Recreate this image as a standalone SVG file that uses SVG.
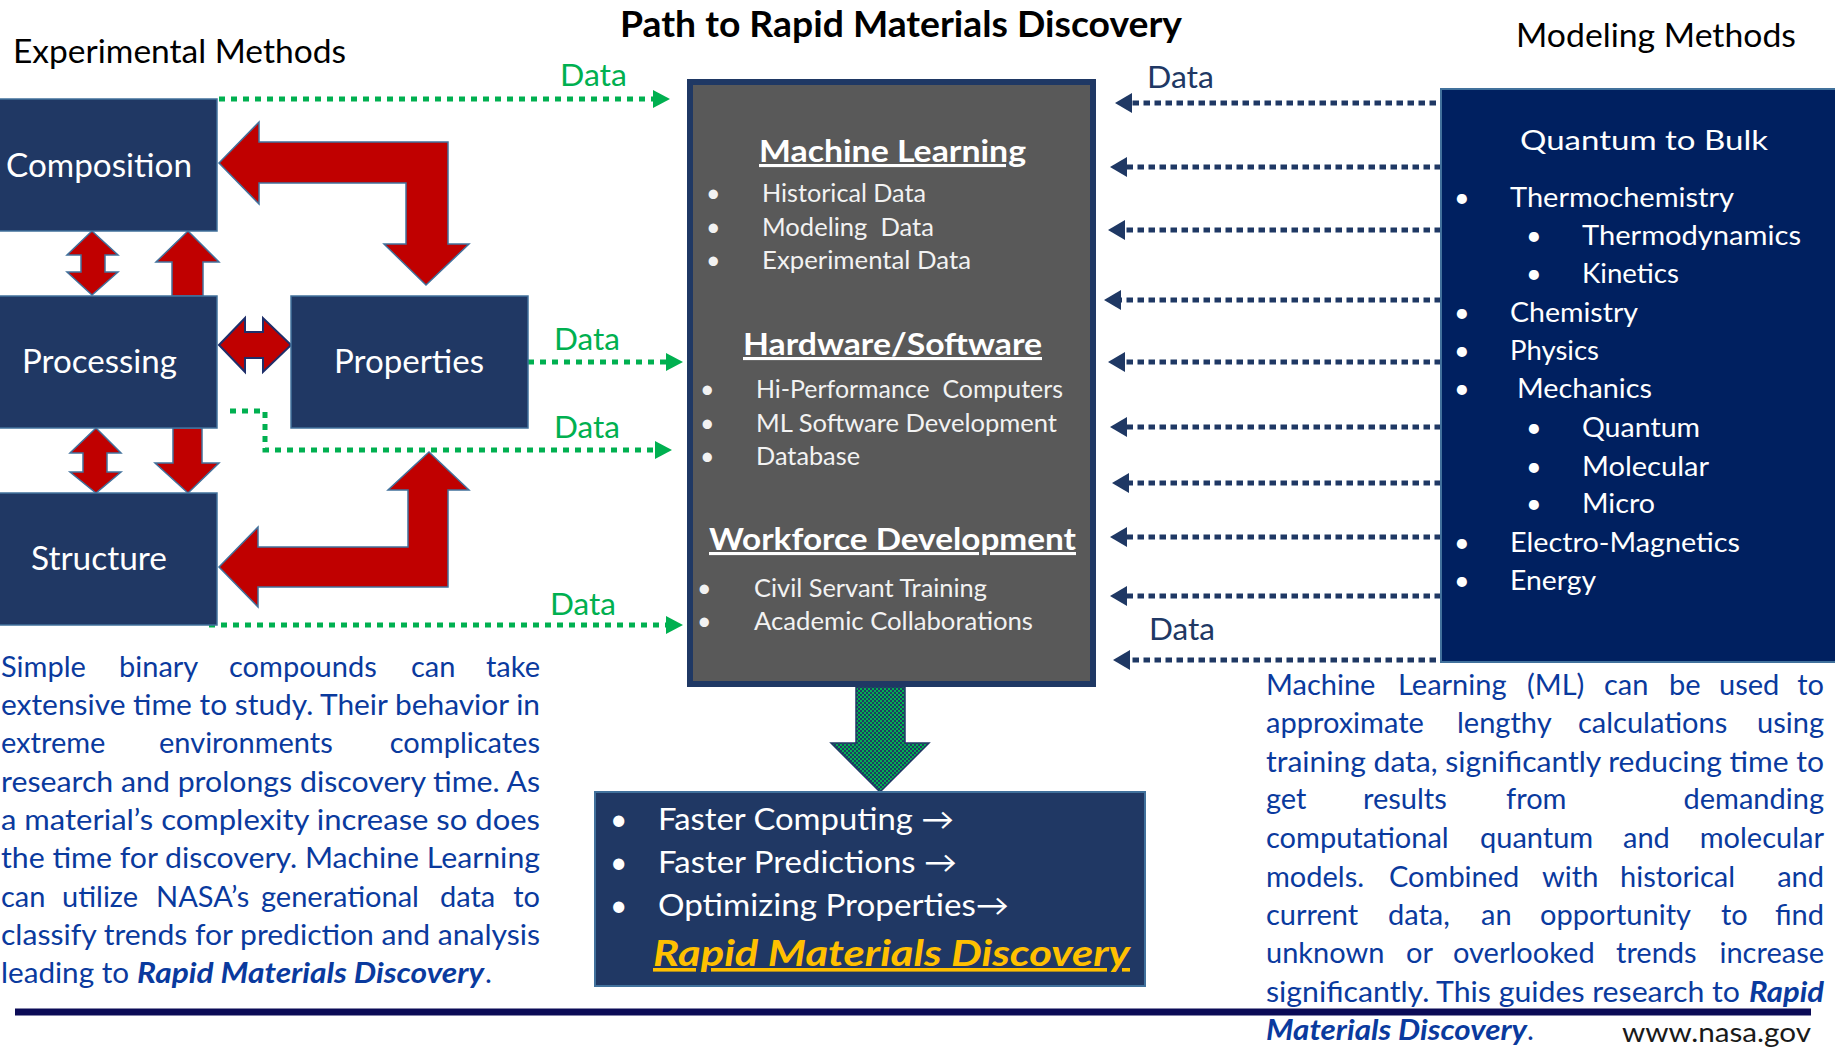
<svg xmlns="http://www.w3.org/2000/svg" width="1835" height="1049" viewBox="0 0 1835 1049">
<defs>
<style>
text{font-family:Lato,"Open Sans","Liberation Sans",sans-serif}
.box{fill:#203864;stroke:#41719C;stroke-width:1.5}
.lbl{fill:#fff;font-size:32px}
.hd{fill:#000;font-size:32px}
.dg{fill:#00B050;font-size:30px}
.dn{fill:#203864;font-size:30px}
.red{fill:#C00000;stroke:#41719C;stroke-width:1.5}
.gl{fill:none;stroke:#00B050;stroke-width:5;stroke-dasharray:6 6}
.nl{fill:none;stroke:#1F3864;stroke-width:5;stroke-dasharray:6.5 4.5}
.ch{fill:#fff;font-size:31px;font-weight:700;text-decoration:underline}
.ci{fill:#F2F2F2;font-size:25px}
.mi{fill:#fff;font-size:27px}
.ri{fill:#fff;font-size:30px}
.p{fill:#0A3A9E;font-size:29px}
.bi{font-weight:700;font-style:italic}
</style>
<marker id="ag" markerUnits="userSpaceOnUse" markerWidth="17" markerHeight="18" refX="0" refY="9" orient="auto" viewBox="0 0 17 18"><path d="M0,0 L17,9 L0,18z" fill="#00B050"/></marker>
<marker id="an" markerUnits="userSpaceOnUse" markerWidth="17" markerHeight="20" refX="0" refY="10" orient="auto" viewBox="0 0 17 20"><path d="M0,0 L17,10 L0,20z" fill="#1F3864"/></marker>
<pattern id="chk" width="4" height="4" patternUnits="userSpaceOnUse"><rect width="4" height="4" fill="#203864"/><rect width="2" height="2" fill="#00B050"/><rect x="2" y="2" width="2" height="2" fill="#00B050"/></pattern>
</defs>
<rect width="1835" height="1049" fill="#fff"/>

<text class="hd" x="13" y="63" textLength="333" lengthAdjust="spacingAndGlyphs">Experimental Methods</text>
<text x="620" y="37" font-size="36" font-weight="700" fill="#000" textLength="562" lengthAdjust="spacingAndGlyphs">Path to Rapid Materials Discovery</text>
<text class="hd" x="1516" y="47" textLength="280" lengthAdjust="spacingAndGlyphs">Modeling Methods</text>

<g id="connectors">
<path class="gl" d="M219,99 H653" marker-end="url(#ag)"/>
<path class="gl" d="M528,362 H666" marker-end="url(#ag)"/>
<path class="gl" d="M230,411 H265 V450 H655" marker-end="url(#ag)"/>
<path class="gl" d="M209,625 H666" marker-end="url(#ag)"/>
<text class="dg" x="560" y="86" textLength="67" lengthAdjust="spacingAndGlyphs">Data</text>
<text class="dg" x="554" y="350" textLength="66" lengthAdjust="spacingAndGlyphs">Data</text>
<text class="dg" x="554" y="438" textLength="66" lengthAdjust="spacingAndGlyphs">Data</text>
<text class="dg" x="550" y="615" textLength="66" lengthAdjust="spacingAndGlyphs">Data</text>
<path class="nl" d="M1447,103 H1132" marker-end="url(#an)"/>
<path class="nl" d="M1441,167 H1127" marker-end="url(#an)"/>
<path class="nl" d="M1441,230 H1125" marker-end="url(#an)"/>
<path class="nl" d="M1441,300 H1121" marker-end="url(#an)"/>
<path class="nl" d="M1441,362 H1125" marker-end="url(#an)"/>
<path class="nl" d="M1441,427 H1127" marker-end="url(#an)"/>
<path class="nl" d="M1441,483 H1129" marker-end="url(#an)"/>
<path class="nl" d="M1441,537 H1127" marker-end="url(#an)"/>
<path class="nl" d="M1441,596 H1127" marker-end="url(#an)"/>
<path class="nl" d="M1447,660 H1130" marker-end="url(#an)"/>
<text class="dn" x="1147" y="88" textLength="67" lengthAdjust="spacingAndGlyphs">Data</text>
<text class="dn" x="1149" y="640" textLength="66" lengthAdjust="spacingAndGlyphs">Data</text>
<polygon class="red" points="219,163 259,122 259,142 448,142 448,244 469,244 426,285 384,244 406,244 406,183 259,183 259,204"/>
<polygon class="red" points="219,567 258,527 258,547 408,547 408,490 388,490 429,452 469,490 448,490 448,587 258,587 258,607"/>
<polygon class="red" points="92,231 118,255 105,255 105,272 118,272 92,295 67,272 81,272 81,255 67,255"/>
<polygon class="red" points="188,231 219,262 203,262 203,296 172,296 172,262 156,262"/>
<polygon class="red" points="96,428 121,453 107,453 107,472 121,472 96,493 70,472 83,472 83,453 70,453"/>
<polygon class="red" points="173,428 202,428 202,463 219,463 188,493 155,463 173,463"/>
<polygon points="219,345 245,318 245,332 263,332 263,318 291,345 263,372 263,358 245,358 245,372" fill="#C00000" stroke="#1F2F6A" stroke-width="2"/>
<polygon points="856,687 905,687 905,743 929,743 880,792 831,743 856,743" fill="url(#chk)" stroke="#1F3864" stroke-width="1.5"/>
</g>

<g id="composition"><rect class="box" x="-2" y="99" width="219" height="132"/><text class="lbl" x="6" y="177" textLength="186" lengthAdjust="spacingAndGlyphs">Composition</text></g>
<g id="processing"><rect class="box" x="-2" y="296" width="219" height="132"/><text class="lbl" x="22" y="373" textLength="155" lengthAdjust="spacingAndGlyphs">Processing</text></g>
<g id="properties"><rect class="box" x="291" y="296" width="237" height="132"/><text class="lbl" x="334" y="373" textLength="150" lengthAdjust="spacingAndGlyphs">Properties</text></g>
<g id="structure"><rect class="box" x="-2" y="493" width="219" height="132"/><text class="lbl" x="31" y="570" textLength="136" lengthAdjust="spacingAndGlyphs">Structure</text></g>

<g id="ml-hub">
<rect x="690" y="82" width="403" height="602" fill="#595959" stroke="#1F3864" stroke-width="6"/>
<text class="ch" x="759" y="162" textLength="267" lengthAdjust="spacingAndGlyphs">Machine Learning</text>
<text class="ci" x="706" y="202">•</text><text class="ci" x="762" y="202" textLength="164" lengthAdjust="spacingAndGlyphs">Historical Data</text>
<text class="ci" x="706" y="236">•</text><text class="ci" x="762" y="236" textLength="172" lengthAdjust="spacingAndGlyphs" xml:space="preserve">Modeling  Data</text>
<text class="ci" x="706" y="269">•</text><text class="ci" x="762" y="269" textLength="209" lengthAdjust="spacingAndGlyphs">Experimental Data</text>
<text class="ch" x="743" y="355" textLength="299" lengthAdjust="spacingAndGlyphs">Hardware/Software</text>
<text class="ci" x="700" y="398">•</text><text class="ci" x="756" y="398" textLength="307" lengthAdjust="spacingAndGlyphs" xml:space="preserve">Hi-Performance  Computers</text>
<text class="ci" x="700" y="432">•</text><text class="ci" x="756" y="432" textLength="301" lengthAdjust="spacingAndGlyphs">ML Software Development</text>
<text class="ci" x="700" y="465">•</text><text class="ci" x="756" y="465" textLength="104" lengthAdjust="spacingAndGlyphs">Database</text>
<text class="ch" x="709" y="550" textLength="367" lengthAdjust="spacingAndGlyphs">Workforce Development</text>
<text class="ci" x="697" y="597">•</text><text class="ci" x="754" y="597" textLength="233" lengthAdjust="spacingAndGlyphs">Civil Servant Training</text>
<text class="ci" x="697" y="630">•</text><text class="ci" x="754" y="630" textLength="279" lengthAdjust="spacingAndGlyphs">Academic Collaborations</text>
</g>

<g id="modeling">
<rect x="1441" y="89" width="400" height="573" fill="#002060" stroke="#41719C" stroke-width="2"/>
<text class="mi" x="1520" y="150" font-size="30" textLength="248" lengthAdjust="spacingAndGlyphs">Quantum to Bulk</text>
<text class="mi" x="1454" y="207">•</text><text class="mi" x="1510" y="207" textLength="224" lengthAdjust="spacingAndGlyphs">Thermochemistry</text>
<text class="mi" x="1526" y="245">•</text><text class="mi" x="1582" y="245" textLength="219" lengthAdjust="spacingAndGlyphs">Thermodynamics</text>
<text class="mi" x="1526" y="283">•</text><text class="mi" x="1582" y="283" textLength="97" lengthAdjust="spacingAndGlyphs">Kinetics</text>
<text class="mi" x="1454" y="322">•</text><text class="mi" x="1510" y="322" textLength="128" lengthAdjust="spacingAndGlyphs">Chemistry</text>
<text class="mi" x="1454" y="360">•</text><text class="mi" x="1510" y="360" textLength="89" lengthAdjust="spacingAndGlyphs">Physics</text>
<text class="mi" x="1454" y="398">•</text><text class="mi" x="1517" y="398" textLength="135" lengthAdjust="spacingAndGlyphs">Mechanics</text>
<text class="mi" x="1526" y="437">•</text><text class="mi" x="1582" y="437" textLength="118" lengthAdjust="spacingAndGlyphs">Quantum</text>
<text class="mi" x="1526" y="476">•</text><text class="mi" x="1582" y="476" textLength="127" lengthAdjust="spacingAndGlyphs">Molecular</text>
<text class="mi" x="1526" y="513">•</text><text class="mi" x="1582" y="513" textLength="73" lengthAdjust="spacingAndGlyphs">Micro</text>
<text class="mi" x="1454" y="552">•</text><text class="mi" x="1510" y="552" textLength="230" lengthAdjust="spacingAndGlyphs">Electro-Magnetics</text>
<text class="mi" x="1454" y="590">•</text><text class="mi" x="1510" y="590" textLength="86" lengthAdjust="spacingAndGlyphs">Energy</text>
</g>

<g id="results">
<rect x="595" y="792" width="550" height="194" fill="#203864" stroke="#41719C" stroke-width="2"/>
<text class="ri" x="610" y="830">•</text><text class="ri" x="658" y="830" textLength="296" lengthAdjust="spacingAndGlyphs">Faster Computing →</text>
<text class="ri" x="610" y="873">•</text><text class="ri" x="658" y="873" textLength="299" lengthAdjust="spacingAndGlyphs">Faster Predictions →</text>
<text class="ri" x="610" y="916">•</text><text class="ri" x="658" y="916" textLength="351" lengthAdjust="spacingAndGlyphs">Optimizing Properties→</text>
<text x="653" y="966" font-size="36" font-weight="700" font-style="italic" fill="#FFC000" text-decoration="underline" textLength="477" lengthAdjust="spacingAndGlyphs">Rapid Materials Discovery</text>
</g>

<g id="left-text">
<text class="p" y="677"><tspan x="1">Simple</tspan><tspan x="119">binary</tspan><tspan x="229">compounds</tspan><tspan x="411">can</tspan><tspan x="540" text-anchor="end">take</tspan></text>
<text class="p" x="1" y="715" textLength="539" lengthAdjust="spacingAndGlyphs">extensive time to study. Their behavior in</text>
<text class="p" y="753"><tspan x="1">extreme</tspan><tspan x="159">environments</tspan><tspan x="540" text-anchor="end">complicates</tspan></text>
<text class="p" x="1" y="792" textLength="539" lengthAdjust="spacingAndGlyphs">research and prolongs discovery time. As</text>
<text class="p" x="1" y="830" textLength="539" lengthAdjust="spacingAndGlyphs">a material’s complexity increase so does</text>
<text class="p" x="1" y="868" textLength="539" lengthAdjust="spacingAndGlyphs">the time for discovery. Machine Learning</text>
<text class="p" y="907"><tspan x="1">can</tspan><tspan x="62">utilize</tspan><tspan x="156">NASA’s</tspan><tspan x="261">generational</tspan><tspan x="440">data</tspan><tspan x="540" text-anchor="end">to</tspan></text>
<text class="p" x="1" y="945" textLength="539" lengthAdjust="spacingAndGlyphs">classify trends for prediction and analysis</text>
<text class="p" x="1" y="983" textLength="128" lengthAdjust="spacingAndGlyphs">leading to</text>
<text class="p bi" x="137" y="983" textLength="347" lengthAdjust="spacingAndGlyphs">Rapid Materials Discovery</text>
<text class="p" x="485" y="983">.</text>
</g>

<g id="right-text">
<text class="p" y="695"><tspan x="1266">Machine</tspan><tspan x="1398">Learning</tspan><tspan x="1527">(ML)</tspan><tspan x="1604">can</tspan><tspan x="1669">be</tspan><tspan x="1719">used</tspan><tspan x="1824" text-anchor="end">to</tspan></text>
<text class="p" y="733"><tspan x="1266">approximate</tspan><tspan x="1457">lengthy</tspan><tspan x="1578">calculations</tspan><tspan x="1824" text-anchor="end">using</tspan></text>
<text class="p" x="1266" y="772" textLength="558" lengthAdjust="spacingAndGlyphs">training data, significantly reducing time to</text>
<text class="p" y="809"><tspan x="1266">get</tspan><tspan x="1363">results</tspan><tspan x="1506">from</tspan><tspan x="1824" text-anchor="end">demanding</tspan></text>
<text class="p" y="848"><tspan x="1266">computational</tspan><tspan x="1480">quantum</tspan><tspan x="1623">and</tspan><tspan x="1824" text-anchor="end">molecular</tspan></text>
<text class="p" y="887"><tspan x="1266">models.</tspan><tspan x="1389">Combined</tspan><tspan x="1542">with</tspan><tspan x="1620">historical</tspan><tspan x="1824" text-anchor="end">and</tspan></text>
<text class="p" y="925"><tspan x="1266">current</tspan><tspan x="1388">data,</tspan><tspan x="1481">an</tspan><tspan x="1540">opportunity</tspan><tspan x="1721">to</tspan><tspan x="1824" text-anchor="end">find</tspan></text>
<text class="p" y="963"><tspan x="1266">unknown</tspan><tspan x="1406">or</tspan><tspan x="1453">overlooked</tspan><tspan x="1616">trends</tspan><tspan x="1824" text-anchor="end">increase</tspan></text>
<text class="p" x="1266" y="1002" textLength="474" lengthAdjust="spacingAndGlyphs">significantly. This guides research to</text>
<text class="p bi" x="1749" y="1002" textLength="75" lengthAdjust="spacingAndGlyphs">Rapid</text>
<text class="p bi" x="1266" y="1040" textLength="261" lengthAdjust="spacingAndGlyphs">Materials Discovery</text>
<text class="p" x="1527" y="1040">.</text>
</g>

<line x1="15" y1="1012" x2="1811" y2="1012" stroke="#0B0B57" stroke-width="7"/>
<text x="1622" y="1042" font-family="'Liberation Sans',Arial,sans-serif" font-size="26" fill="#1a1a1a" textLength="189" lengthAdjust="spacingAndGlyphs">www.nasa.gov</text>
</svg>
